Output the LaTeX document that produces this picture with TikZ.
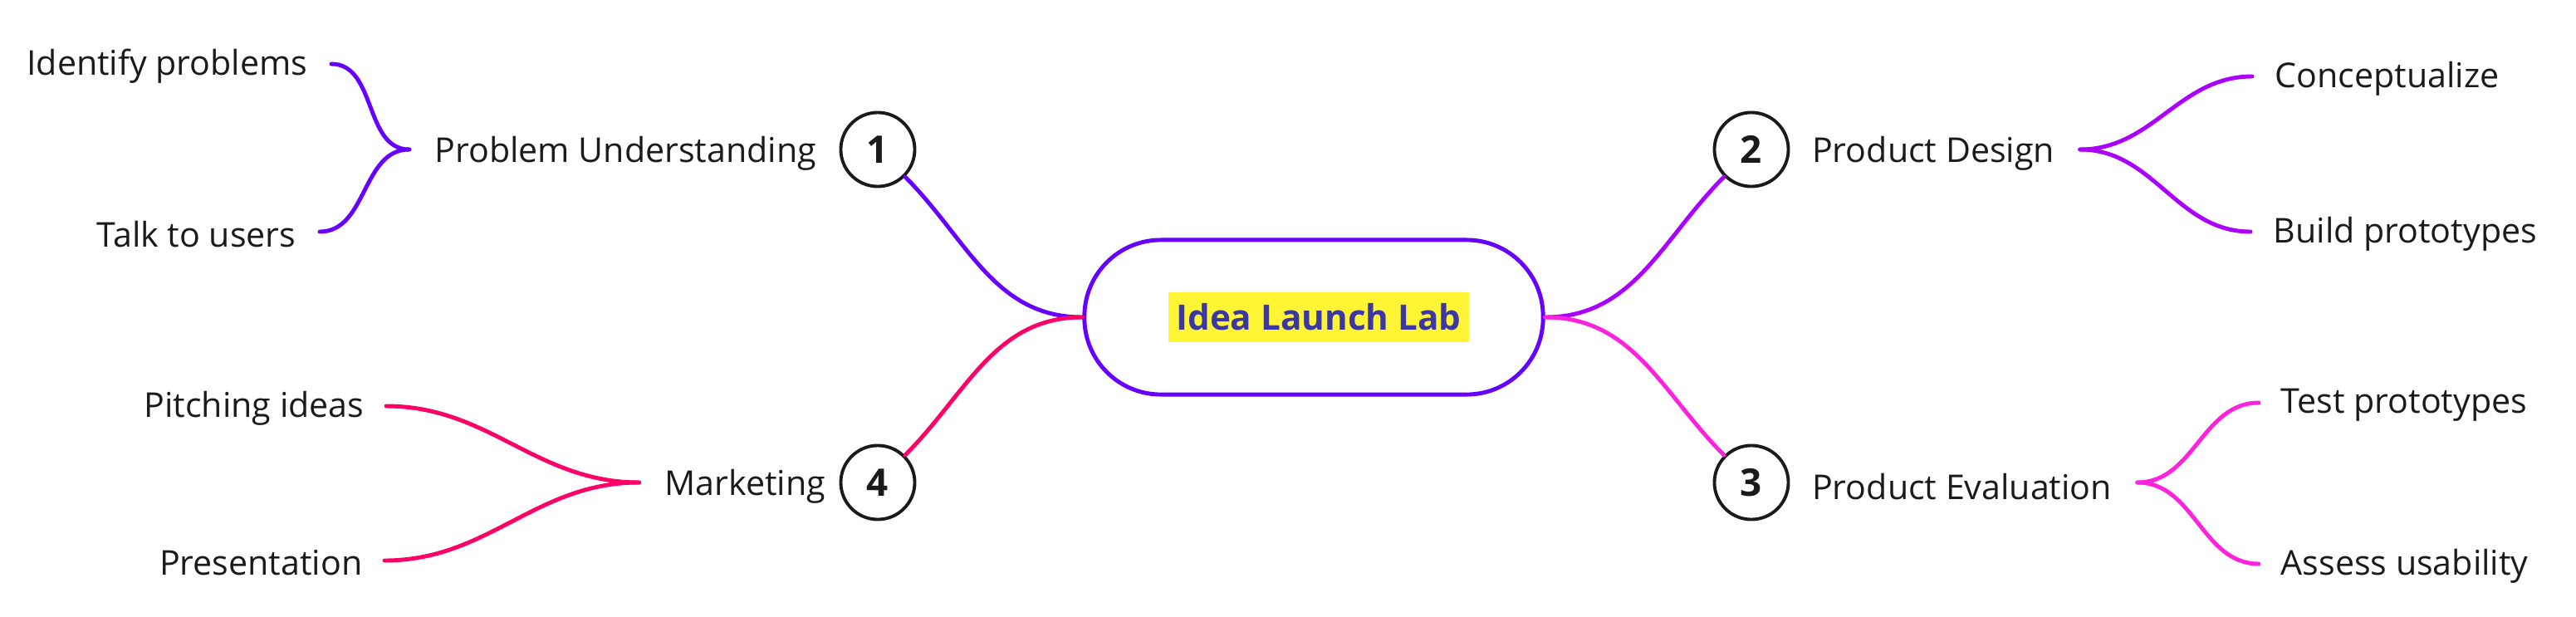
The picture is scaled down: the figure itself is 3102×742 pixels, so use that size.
\documentclass[tikz,border=0pt]{standalone}
\usepackage{fontspec}
\setmainfont{Open Sans}
\usepackage{xcolor}
\usetikzlibrary{positioning}

\definecolor{violetA}{HTML}{6600FF}
\definecolor{violetB}{HTML}{AA00FF}
\definecolor{magentaC}{HTML}{FF22DD}
\definecolor{pinkD}{HTML}{FF0066}
\definecolor{inkgray}{HTML}{1A1A1A}
\definecolor{titleblue}{HTML}{3B37A3}
\definecolor{hlyellow}{HTML}{FFF535}

\begin{document}
\begin{tikzpicture}[
    x=0.01cm, y=0.01cm,
    hub/.style={rectangle, draw=violetA, line width=1.4pt, rounded corners=0.92cm, minimum width=5.52cm, minimum height=1.86cm},
    headline/.style={fill=hlyellow, text=titleblue, font=\bfseries\fontsize{12}{14}\selectfont, minimum width=3.61cm, minimum height=0.59cm, inner sep=0pt},
    num/.style={circle, draw=inkgray, line width=1.1pt, fill=white, minimum size=0.89cm, inner sep=0pt, font=\bfseries\fontsize{13}{15}\selectfont, text=inkgray},
    topic/.style={inner sep=0pt, yshift=-0.05cm, font=\fontsize{11.7}{14}\selectfont, text=inkgray},
    leaf/.style={topic},
    link/.style={line width=1.4pt, line cap=round}
]
    \useasboundingbox (0,0) rectangle (3102,-742);

    \node[hub] (lab) at (1582,-382) {};
    \node[headline] (name) at (1588,-382) {Idea Launch Lab};

    \node[num] (c1) at (1057,-180) {1};
    \node[num] (c2) at (2109,-180) {2};
    \node[num] (c3) at (2109,-581) {3};
    \node[num] (c4) at (1057,-581) {4};

    \node[topic, left=0.27cm of c1] (pu) {Problem Understanding};
    \node[topic, right=0.26cm of c2] (pd) {Product Design};
    \node[topic, right=0.26cm of c3] (pe) {Product Evaluation};
    \node[topic, left=0.16cm of c4] (mk) {Marketing};

    \coordinate[left=0.3cm of pu] (puj);
    \coordinate[right=0.3cm of pd] (pdj);
    \coordinate[right=0.3cm of pe] (pej);
    \coordinate[left=0.3cm of mk] (mkj);

    \node[leaf, anchor=east] (idp) at (371,-75) {Identify problems};
    \node[leaf, anchor=east] (ttu) at (357,-277) {Talk to users};
    \node[leaf, anchor=east] (pit) at (439,-487) {Pitching ideas};
    \node[leaf, anchor=east] (pre) at (437,-673) {Presentation};
    \node[leaf, anchor=west] (con) at (2739,-90) {Conceptualize};
    \node[leaf, anchor=west] (bpr) at (2737,-277) {Build prototypes};
    \node[leaf, anchor=west] (tpr) at (2746,-483) {Test prototypes};
    \node[leaf, anchor=west] (asu) at (2746,-677) {Assess usability};

    \draw[link, violetA] (c1) to[out=-45, in=180] (lab.west);
    \draw[link, pinkD] (c4) to[out=45, in=180] (lab.west);
    \draw[link, violetB] (c2) to[out=-135, in=0] (lab.east);
    \draw[link, magentaC] (c3) to[out=135, in=0] (lab.east);

    \draw[link, violetA] ([yshift=0.05cm]puj) to[out=180, in=0] ([xshift=0.28cm, yshift=0.03cm]idp.east);
    \draw[link, violetA] ([yshift=0.05cm]puj) to[out=180, in=0] ([xshift=0.28cm, yshift=0.03cm]ttu.east);
    \draw[link, pinkD] ([yshift=0.05cm]mkj) to[out=180, in=0] ([xshift=0.26cm, yshift=0.03cm]pit.east);
    \draw[link, pinkD] ([yshift=0.05cm]mkj) to[out=180, in=0] ([xshift=0.26cm, yshift=0.03cm]pre.east);
    \draw[link, violetB] ([yshift=0.05cm]pdj) to[out=0, in=180] ([xshift=-0.27cm, yshift=0.03cm]con.west);
    \draw[link, violetB] ([yshift=0.05cm]pdj) to[out=0, in=180] ([xshift=-0.27cm, yshift=0.03cm]bpr.west);
    \draw[link, magentaC] ([yshift=0.05cm]pej) to[out=0, in=180] ([xshift=-0.26cm, yshift=0.03cm]tpr.west);
    \draw[link, magentaC] ([yshift=0.05cm]pej) to[out=0, in=180] ([xshift=-0.26cm, yshift=0.03cm]asu.west);
\end{tikzpicture}
\end{document}
